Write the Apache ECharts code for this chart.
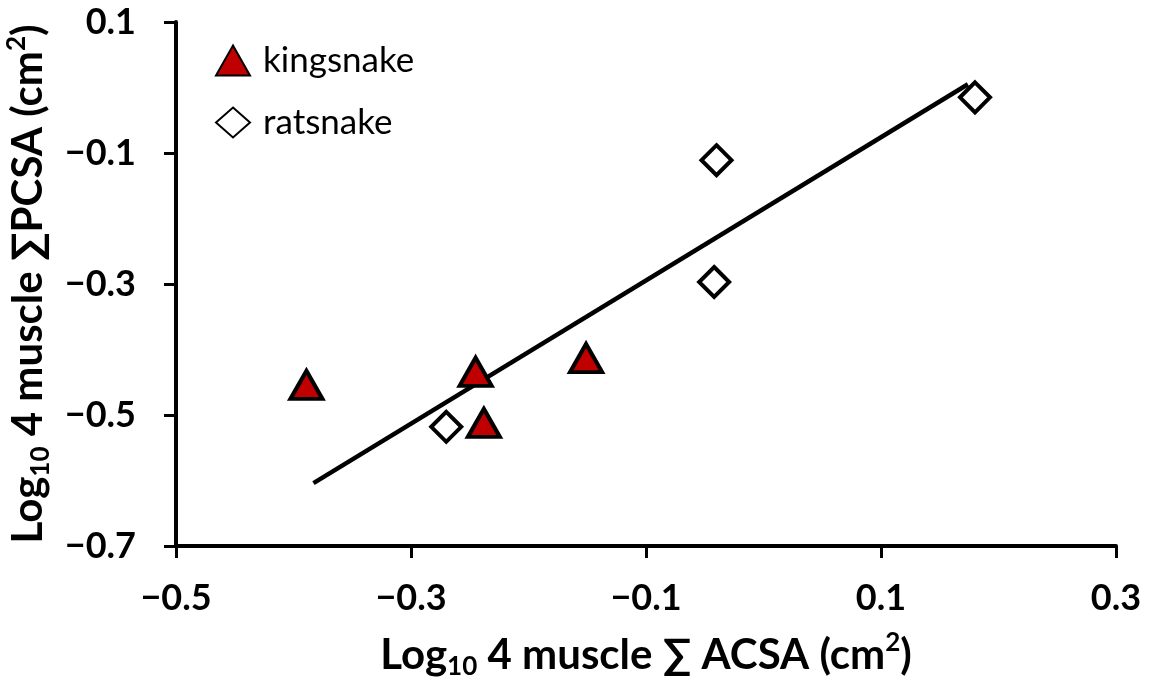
<!DOCTYPE html>
<html>
<head>
    <meta charset="utf-8">
    <title>PCSA vs ACSA</title>
    <script src="https://cdn.jsdelivr.net/npm/echarts@6/dist/echarts.min.js"></script>
</head>
<body style="margin:0;background:#fff;">
<div id="main" style="width: 1151px;height:682px;"></div>
<script type="text/javascript">
    // log10 ACSA (x) and log10 PCSA (y)
    var kingX = [-0.389, -0.245, -0.238, -0.151];
    var kingY = [-0.454, -0.434, -0.512, -0.413];
    var ratX = [0.180, -0.040, -0.042, -0.270];
    var ratY = [-0.015, -0.111, -0.297, -0.518];
    // fitted line end points
    var fitX = [-0.383, 0.174];
    var fitY = [-0.604, 0.005];

    function pairs(xs, ys) {
        var out = [];
        for (var i = 0; i < xs.length; i++) out.push([xs[i], ys[i]]);
        return out;
    }

    var font = 'Lato';
    var nameRich = {
        a: {fontFamily: font, fontWeight: 'bold', fontSize: 42, lineHeight: 50, color: '#000'},
        sub: {fontFamily: font, fontWeight: 'bold', fontSize: 26, lineHeight: 26, verticalAlign: 'bottom', color: '#000'},
        sup: {fontFamily: font, fontWeight: 'bold', fontSize: 26, lineHeight: 26, verticalAlign: 'top', color: '#000'}
    };

    function tickFmt(v) {
        return (v < 0 ? '\u2212' : '') + Math.abs(v).toFixed(1);
    }

    var myChart = echarts.init(document.getElementById('main'));
    var option = {
        animation: false,
        backgroundColor: '#fff',
        grid: {left: 176, right: 35, top: 22, bottom: 136, outerBoundsMode: 'none', containLabel: false},
        legend: {
            orient: 'vertical',
            left: 210,
            top: 38,
            itemWidth: 34,
            itemHeight: 30,
            itemGap: 27,
            textStyle: {fontFamily: font, fontSize: 35, color: '#000', padding: [0, 0, 0, 8]},
            data: ['kingsnake', 'ratsnake']
        },
        xAxis: {
            type: 'value',
            min: -0.5, max: 0.3, interval: 0.2,
            splitLine: {show: false},
            axisLine: {onZero: false, lineStyle: {color: '#000', width: 4}},
            axisTick: {inside: false, length: 12, lineStyle: {color: '#000', width: 3}},
            axisLabel: {
                margin: 34, fontFamily: font, fontWeight: 'bold', fontSize: 36, color: '#000',
                formatter: tickFmt
            },
            name: '{a|Log}{sub|10}{a| 4 muscle \u2211 ACSA (cm}{sup|2}{a|)}',
            nameLocation: 'middle',
            nameGap: 84,
            nameTextStyle: {rich: nameRich}
        },
        yAxis: {
            type: 'value',
            min: -0.7, max: 0.1, interval: 0.2,
            splitLine: {show: false},
            axisLine: {onZero: false, lineStyle: {color: '#000', width: 4}},
            axisTick: {inside: false, length: 12, lineStyle: {color: '#000', width: 3}},
            axisLabel: {
                margin: 40, fontFamily: font, fontWeight: 'bold', fontSize: 36, color: '#000',
                formatter: tickFmt
            },
            name: '{a|Log}{sub|10}{a| 4 muscle \u2211PCSA (cm}{sup|2}{a|)}',
            nameLocation: 'middle',
            nameRotate: 90,
            nameGap: 110,
            nameTextStyle: {rich: nameRich}
        },
        series: [
            {
                name: 'fit',
                type: 'line',
                data: pairs(fitX, fitY),
                showSymbol: false,
                symbol: 'none',
                lineStyle: {color: '#000', width: 4.5},
                z: 1
            },
            {
                name: 'kingsnake',
                type: 'scatter',
                symbol: 'triangle',
                symbolSize: [32, 28],
                data: pairs(kingX, kingY),
                itemStyle: {color: '#c00000', borderColor: '#000', borderWidth: 4, opacity: 1},
                z: 3
            },
            {
                name: 'ratsnake',
                type: 'scatter',
                symbol: 'diamond',
                symbolSize: [30, 30],
                data: pairs(ratX, ratY),
                itemStyle: {color: '#fff', borderColor: '#000', borderWidth: 4, opacity: 1},
                z: 3
            }
        ]
    };
    myChart.setOption(option);
</script>
</body>
</html>
